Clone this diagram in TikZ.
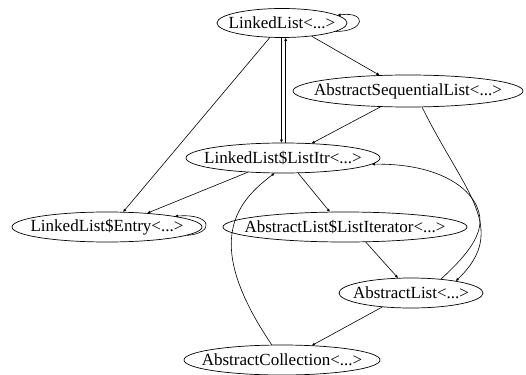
\documentclass[tikz,border=0pt]{standalone}
\usepackage{fontspec}
\setmainfont{Liberation Serif}
\usetikzlibrary{shapes.geometric,arrows.meta}
\newcommand\nlab[1]{\makebox[0pt]{#1}}
\begin{document}
\begin{tikzpicture}[x=1pt,y=-1pt,
  cls/.style={draw,ellipse,inner sep=0pt,minimum height=30pt,line width=0.7pt,
    font=\fontsize{17}{17}\selectfont},
  arr/.style={-{Triangle[length=3pt,width=2.6pt]},line width=0.6pt}]
\useasboundingbox (0,0) rectangle (526,374);
\node[cls,minimum width=130pt,minimum height=29pt] (LL) at (282,23) {\nlab{LinkedList<...>}};
\node[cls,minimum width=230pt,minimum height=32pt] (ASL) at (408,91) {\nlab{AbstractSequentialList<...>}};
\node[cls,minimum width=194pt] (LI) at (283,158) {\nlab{LinkedList\$ListItr<...>}};
\node[cls,minimum width=190pt] (E) at (107,227) {\nlab{LinkedList\$Entry<...>}};
\node[cls,minimum width=244pt] (ALI) at (345,227) {\nlab{AbstractList\$ListIterator<...>}};
\node[cls,minimum width=144pt] (AL) at (411,293) {\nlab{AbstractList<...>}};
\node[cls,minimum width=196pt] (AC) at (282,360) {\nlab{AbstractCollection<...>}};
% self loops
\draw[arr] (LL.-9) .. controls +(30,0) and +(30,-4) .. (LL.8);
\draw[arr] (E.-6) .. controls +(28,-2) and +(38,-3) .. (E.9);
% straight edges
\draw[arr] (LL.-130) -- (E.43);
\draw[arr] (LL.-92) -- (LL.-92 |- LI.north);
\draw[arr] (LI.80) -- (LI.80 |- LL.south);
\draw[arr] (LL.-24) -- (ASL.151);
\draw[arr] (ASL.-150) -- (LI.27);
\draw[arr] (LI.-158) -- (E.19);
\draw[arr] (LI.-45) -- (ALI.135);
\draw[arr] (ALI.-36) -- (AL.131);
\draw[arr] (AL.-154) -- (AC.26);
% curved edges
\coordinate (bend) at (480,222);
\draw[arr] (ASL.-49) .. controls +(42,85) and +(54,-52) .. (AL.15);
\draw[arr] (AL.25) .. controls +(22,-20) and +(-0.7,18) .. (bend)
  .. controls +(1,-27) and +(75,-1) .. (LI.-4);
\draw[arr] (AC.124) .. controls +(-67,-99) and +(-42,31) .. (LI.-119);
\end{tikzpicture}
\end{document}
